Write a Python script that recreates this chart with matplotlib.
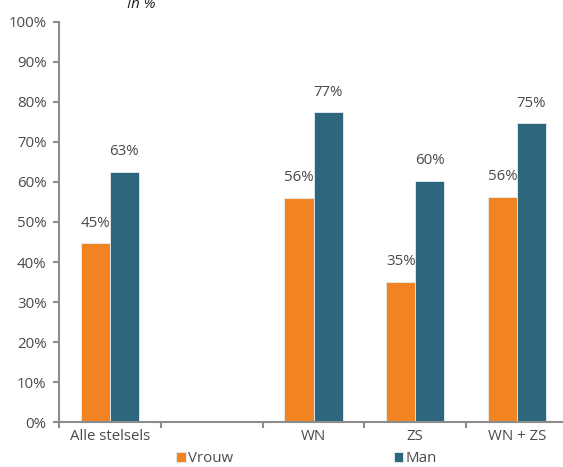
import numpy as np
import matplotlib
matplotlib.use("Agg")
import matplotlib.pyplot as plt

plt.rcParams["font.family"] = ["Open Sans", "DejaVu Sans"]

categories = ["Alle stelsels", "", "WN", "ZS", "WN + ZS"]
vrouw = [44.7, np.nan, 56.1, 35.1, 56.3]
man = [62.6, np.nan, 77.4, 60.3, 74.7]
vrouw_labels = ["45%", "", "56%", "35%", "56%"]
man_labels = ["63%", "", "77%", "60%", "75%"]
yticks = list(range(0, 101, 10))

ORANGE = "#f28323"
TEAL = "#2e677d"
GREY = "#8c8c8c"
TEXT = "#4a4a4a"
FS = 10.8

fig = plt.figure(figsize=(5.63, 4.67), dpi=100)
ax = fig.add_axes([59 / 563, 45 / 467, 509 / 563, 400 / 467])

x = np.arange(len(categories))
w = 0.285
ax.bar(x - w / 2, vrouw, w, color=ORANGE, edgecolor="#e6eef2", linewidth=0.6, label="Vrouw")
ax.bar(x + w / 2, man, w, color=TEAL, edgecolor="#e6eef2", linewidth=0.6, label="Man")

for xi, v, lab in zip(x - w / 2, vrouw, vrouw_labels):
    if lab:
        ax.annotate(lab, (xi, v), xytext=(0, 9), textcoords="offset points",
                    ha="center", va="bottom", fontsize=FS, color=TEXT)
for xi, v, lab in zip(x + w / 2, man, man_labels):
    if lab:
        ax.annotate(lab, (xi, v), xytext=(0, 9), textcoords="offset points",
                    ha="center", va="bottom", fontsize=FS, color=TEXT)

ax.set_xlim(-0.5, len(categories) - 0.5)
ax.set_ylim(0, 100)
ax.set_yticks(yticks)
ax.set_yticklabels(["{0}%".format(t) for t in yticks])

# category labels at centres, tick marks at boundaries
ax.set_xticks(x)
ax.set_xticklabels(categories)
ax.tick_params(axis="x", length=0, pad=5)
ax.set_xticks(np.arange(-0.5, len(categories) + 0.5), minor=True)
ax.tick_params(axis="x", which="minor", length=4, width=1.5, color=GREY)
ax.tick_params(axis="y", length=4, width=1.5, color=GREY, pad=5)
for lab in ax.get_xticklabels() + ax.get_yticklabels():
    lab.set_fontsize(FS)
    lab.set_color(TEXT)

for side in ["top", "right"]:
    ax.spines[side].set_visible(False)
for side in ["left", "bottom"]:
    ax.spines[side].set_color(GREY)
    ax.spines[side].set_linewidth(1.5)

fig.text(141 / 563, 1 - 8 / 467, "In %", ha="center", va="baseline",
         fontsize=FS, style="italic", color="#222222")

ax.legend(loc="center left", bbox_to_anchor=(176 / 563, 8 / 467), bbox_transform=fig.transFigure,
          ncol=2, frameon=False, fontsize=FS, handlelength=0.65, handleheight=0.65,
          handletextpad=0.15, columnspacing=10.7, borderaxespad=0, borderpad=0,
          labelcolor=TEXT)

fig.savefig("out.png", dpi=100)
